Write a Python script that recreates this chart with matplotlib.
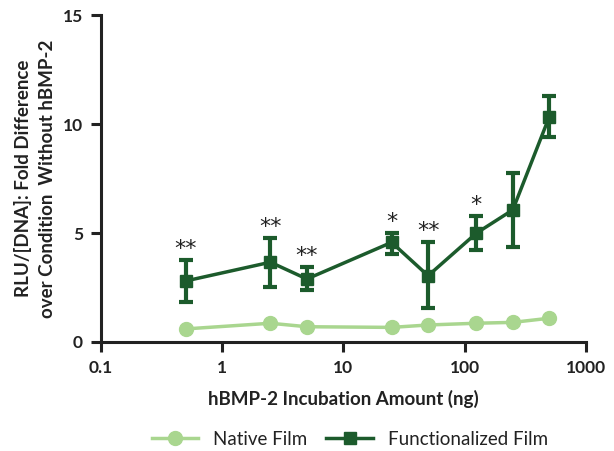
import matplotlib
matplotlib.use("Agg")
import matplotlib.pyplot as plt
from matplotlib.ticker import FixedLocator, FixedFormatter, NullLocator
from matplotlib.lines import Line2D

plt.rcParams['font.family'] = ['Lato', 'DejaVu Sans']

amounts = [0.5, 2.5, 5, 25, 50, 125, 250, 500]
native = [0.60, 0.86, 0.70, 0.67, 0.78, 0.86, 0.90, 1.09]
func = [2.80, 3.66, 2.89, 4.57, 3.04, 4.99, 6.06, 10.33]
func_err_hi = [0.95, 1.10, 0.56, 0.42, 1.53, 0.79, 1.68, 0.97]
func_err_lo = [0.97, 1.12, 0.50, 0.55, 1.50, 0.77, 1.69, 0.91]
stars = ['**', '**', '**', '*', '**', '*', '', '']

light = '#a9d68f'
dark = '#1c5b2c'
ink = '#222222'

fig = plt.figure(figsize=(6.14, 4.51), dpi=100)
ax = fig.add_axes([0.1645, 0.2417, 0.7895, 0.725])

ax.plot(amounts, native, '-o', color=light, ms=10, lw=2.5, zorder=2)
ax.errorbar(amounts, func, yerr=[func_err_lo, func_err_hi], fmt='-s', color=dark,
            ms=9, lw=2.5, elinewidth=3, capsize=5, capthick=3, zorder=3)

for x, y, hi, s in zip(amounts, func, func_err_hi, stars):
    if s:
        ax.text(x, y + hi + 0.05, s, ha='center', va='bottom', fontsize=16,
                color=ink, family='DejaVu Sans')

ax.set_xscale('log')
ax.set_xlim(0.1, 1000)
ax.set_ylim(0, 15)
ax.xaxis.set_major_locator(FixedLocator([0.1, 1, 10, 100, 1000]))
ax.xaxis.set_major_formatter(FixedFormatter(['0.1', '1', '10', '100', '1000']))
ax.xaxis.set_minor_locator(NullLocator())
ax.set_yticks([0, 5, 10, 15])

for sp in ['top', 'right']:
    ax.spines[sp].set_visible(False)
for sp in ['left', 'bottom']:
    ax.spines[sp].set_linewidth(2.2)
    ax.spines[sp].set_color(ink)
ax.tick_params(axis='both', width=2.2, length=7, color=ink, labelsize=12.5, pad=6)
for lab in ax.get_xticklabels() + ax.get_yticklabels():
    lab.set_fontweight('bold')
    lab.set_color(ink)

ax.set_xlabel('hBMP-2 Incubation Amount (ng)', fontsize=13.5, fontweight='bold', color=ink, labelpad=10)
ax.set_ylabel('RLU/[DNA]: Fold Difference\nover Condition  Without hBMP-2', fontsize=13.5,
              fontweight='bold', color=ink, labelpad=5, linespacing=1.45)

handles = [Line2D([], [], color=light, marker='o', ms=10, lw=2.5),
           Line2D([], [], color=dark, marker='s', ms=9, lw=2.5)]
leg = fig.legend(handles, ['Native Film', 'Functionalized Film'], loc='lower center',
                 bbox_to_anchor=(0.57, -0.03), ncol=2, frameon=False,
                 fontsize=13.5, handlelength=2.5, columnspacing=1.0)
for t in leg.get_texts():
    t.set_color(ink)

fig.savefig('out.png', dpi=100)
